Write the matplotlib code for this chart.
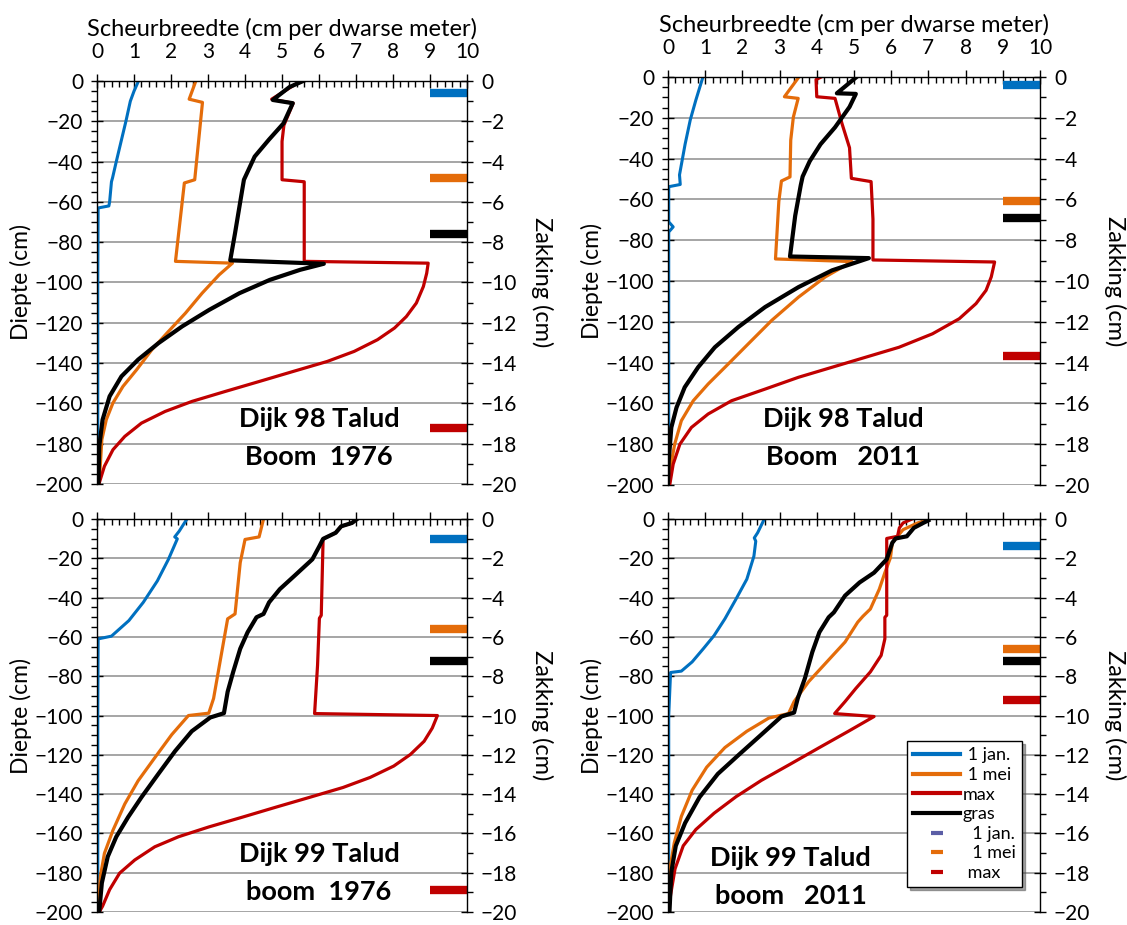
import matplotlib
matplotlib.use("Agg")
import matplotlib.pyplot as plt
from matplotlib.lines import Line2D
from matplotlib.ticker import MultipleLocator

plt.rcParams['font.family'] = ['Lato', 'DejaVu Sans']

# scheurbreedte (cm per dwarse meter) vs diepte (cm), per dijk / situatie
# Dijk 98 Talud Boom 1976
d98_1976_jan = [(1.12, 0), (1.0, -5), (0.9, -10), (0.78, -20), (0.65, -30), (0.52, -40),
                (0.42, -48), (0.39, -50), (0.34, -60), (0.32, -62), (0.03, -63), (0.02, -100), (0.02, -200)]
d98_1976_mei = [(2.67, 0), (2.49, -9), (2.85, -10.6), (2.64, -49), (2.36, -50.6), (2.12, -89.5),
                (3.66, -90.4), (3.3, -96.2), (2.84, -105.3), (2.39, -115.2), (1.93, -124.3),
                (1.48, -133.4), (1.07, -143.3), (0.7, -151.6), (0.43, -159.8), (0.25, -168.1),
                (0.13, -178), (0.06, -199.5)]
d98_1976_max = [(5.5, 0), (4.72, -9), (5.3, -11), (5.05, -22), (5.0, -30), (5.0, -49), (5.6, -50),
                (5.6, -89.5), (8.95, -90.4), (8.91, -95.4), (8.82, -102), (8.63, -110.2), (8.36, -116.9),
                (8.04, -122.6), (7.58, -128.4), (6.95, -134.2), (6.22, -139.2), (5.31, -144.1),
                (4.39, -149.1), (3.48, -154), (2.57, -159), (1.84, -164), (1.2, -169.8), (0.75, -176.4),
                (0.43, -183), (0.2, -191.2), (0.06, -199.5)]
d98_1976_gras = [(5.57, 0), (5.2, -3), (4.75, -9.4), (5.29, -11), (5.04, -21), (4.65, -29),
                 (4.26, -37.5), (3.97, -49), (3.87, -60), (3.73, -75.5), (3.6, -89), (6.13, -90.7),
                 (5.49, -93.7), (4.67, -98.7), (3.85, -105.3), (3.03, -113.6), (2.3, -121.8),
                 (1.66, -130.1), (1.11, -138.3), (0.66, -146.6), (0.34, -156.5), (0.15, -168.1),
                 (0.06, -181.3), (0.04, -199.5)]

# Dijk 98 Talud Boom 2011
d98_2011_jan = [(0.94, 0), (0.75, -11.3), (0.6, -21), (0.46, -33), (0.31, -48), (0.33, -52.7),
                (0.02, -53.8), (0.02, -71), (0.14, -73.5), (0.02, -76), (0.02, -200)]
d98_2011_mei = [(3.52, 0), (3.13, -9.7), (3.5, -10.5), (3.37, -19.7), (3.3, -31), (3.28, -49),
                (3.05, -51), (2.98, -61), (2.89, -89.2), (4.95, -90.5), (4.23, -98), (3.51, -107.9),
                (2.79, -119.3), (2.16, -130.8), (1.62, -140.7), (1.08, -150.5), (0.68, -158.7),
                (0.36, -168.5), (0.18, -180), (0.05, -193.1), (0.02, -200)]
d98_2011_max = [(4.12, 0), (3.98, -1.3), (4.0, -9.7), (4.49, -10.5), (4.68, -23), (4.88, -34.7),
                (4.93, -49.7), (5.46, -51.3), (5.51, -69.7), (5.51, -89.7), (8.78, -90.7), (8.69, -98),
                (8.55, -104.6), (8.28, -111.1), (7.83, -118.5), (7.11, -125.9), (6.21, -132.5),
                (5.31, -137.4), (4.41, -142.3), (3.51, -147.2), (2.61, -153), (1.71, -158.7),
                (1.08, -165.2), (0.63, -171.8), (0.32, -180), (0.14, -189.8), (0.05, -199.7)]
d98_2011_gras = [(5.07, 0), (4.54, -8), (5.05, -8.3), (4.88, -14.7), (4.49, -24.7), (4.1, -33),
                 (3.81, -41.3), (3.62, -48.8), (3.57, -53), (3.42, -68), (3.28, -88), (5.4, -88.8),
                 (4.41, -94.8), (3.51, -103), (2.61, -112.8), (1.89, -122.6), (1.26, -132.5),
                 (0.81, -142.3), (0.45, -152.1), (0.23, -162), (0.09, -171.8), (0.02, -188.2), (0.0, -199.7)]

# Dijk 99 Talud boom 1976
d99_1976_jan = [(2.43, 0), (2.22, -6.2), (2.1, -9.1), (2.17, -10.1), (1.93, -20.5), (1.63, -31.5),
                (1.25, -42.4), (0.86, -51.7), (0.39, -59.6), (0.03, -61), (0.02, -100), (0.02, -200)]
d99_1976_mei = [(4.5, 0), (4.38, -9.1), (4.0, -10.4), (3.87, -22.2), (3.73, -48.3), (3.53, -50.8),
                (3.34, -71), (3.15, -91.3), (3.02, -98.8), (2.47, -100), (2.02, -109.7), (1.56, -121.5),
                (1.11, -133.2), (0.75, -145), (0.43, -158.4), (0.2, -170.1), (0.09, -181.9), (0.02, -199.5)]
d99_1976_max = [(7.03, 0), (6.89, -2), (6.6, -3.7), (6.45, -7), (6.11, -10.1), (6.06, -49),
                (6.01, -50.5), (5.96, -74.4), (5.88, -99), (9.2, -100), (9.06, -106.4), (8.84, -113.1),
                (8.47, -119.8), (8.02, -125.7), (7.38, -131.5), (6.65, -136.6), (5.75, -141.6),
                (4.84, -146.6), (3.93, -151.7), (3.02, -156.7), (2.2, -161.7), (1.56, -166.8),
                (1.02, -173.5), (0.61, -180.2), (0.34, -188.6), (0.15, -197), (0.06, -200)]
d99_1976_gras = [(7.03, 0), (6.89, -2), (6.6, -3.7), (6.45, -7), (6.11, -10.1), (6.01, -13.8),
                 (5.82, -20.5), (5.33, -29), (4.94, -35.7), (4.65, -42.4), (4.5, -48.3), (4.31, -50),
                 (4.07, -57.6), (3.87, -66), (3.68, -77.8), (3.53, -87.9), (3.43, -98.8), (3.06, -101),
                 (2.56, -108), (2.11, -118.1), (1.65, -129.9), (1.2, -141.6), (0.84, -151.7),
                 (0.52, -161.7), (0.29, -171.8), (0.13, -185.2), (0.06, -199.5)]

# Dijk 99 Talud boom 2011
d99_2011_jan = [(2.59, 0), (2.41, -7), (2.32, -9.6), (2.36, -11.3), (2.31, -18.9), (2.12, -30.6),
                (1.83, -40.7), (1.53, -50.8), (1.24, -59.3), (0.95, -66), (0.65, -72.7), (0.36, -77.4),
                (0.07, -78.1), (0.02, -100), (0.02, -200)]
d99_2011_mei = [(6.95, -0.7), (6.71, -2), (6.32, -5.4), (6.17, -8.8), (6.03, -12.1), (5.98, -19.7),
                (5.83, -27.3), (5.68, -35.7), (5.44, -45.8), (5.24, -49.5), (5.1, -52.5), (4.76, -62.6),
                (4.27, -72.7), (3.78, -82.8), (3.39, -92.9), (3.24, -99), (2.71, -101.3), (2.12, -108),
                (1.53, -116.3), (1.04, -126.3), (0.65, -138), (0.36, -151.3), (0.17, -164.7),
                (0.05, -178), (0.02, -191), (0.02, -200)]
d99_2011_max = [(6.56, 0), (6.32, -2), (6.22, -4.5), (6.17, -8.8), (5.88, -9.9), (5.88, -49),
                (5.83, -50), (5.83, -61), (5.73, -69.4), (5.44, -77.8), (5.05, -86.2), (4.76, -92.9),
                (4.48, -99), (5.54, -100.5), (4.85, -108), (4.07, -116.3), (3.29, -124.7), (2.51, -133),
                (1.83, -141.3), (1.24, -149.7), (0.75, -158), (0.41, -166.3), (0.19, -178), (0.07, -191.3),
                (0.02, -200)]
d99_2011_gras = [(7.0, -0.7), (6.86, -2), (6.61, -4.5), (6.42, -8.8), (6.12, -9.9), (6.03, -12.1),
                 (5.88, -20.5), (5.54, -27.3), (5.15, -32.3), (4.76, -39), (4.46, -47.5), (4.32, -50),
                 (4.07, -57.6), (3.88, -67.7), (3.68, -81.1), (3.49, -91.2), (3.39, -98.5), (3.05, -100.5),
                 (2.51, -109.7), (1.92, -119.7), (1.34, -129.7), (0.85, -141.5), (0.46, -154.7),
                 (0.21, -166.3), (0.09, -179.7), (0.04, -200)]

# zakking (cm): 1 jan., 1 mei, gras, max
zakking_98_1976 = [-0.6, -4.8, -7.6, -17.2]
zakking_98_2011 = [-0.4, -6.1, -6.9, -13.7]
zakking_99_1976 = [-1.0, -5.6, -7.2, -18.9]
zakking_99_2011 = [-1.35, -6.6, -7.2, -9.2]

titles = ["Dijk 98 Talud\nBoom  1976", "Dijk 98 Talud\nBoom   2011",
          "Dijk 99 Talud\nboom  1976", "Dijk 99 Talud\nboom   2011"]

BLUE = '#0070C0'
ORANGE = '#E46C0A'
RED = '#C00000'
BLACK = '#000000'
PURPLE = '#5B5EA6'

panels = [
    ([0.0861, 0.4768, 0.3283, 0.4356], d98_1976_jan, d98_1976_mei, d98_1976_max, d98_1976_gras,
     zakking_98_1976, titles[0], (6.0, -177)),
    ([0.5927, 0.4757, 0.3301, 0.4411], d98_2011_jan, d98_2011_mei, d98_2011_max, d98_2011_gras,
     zakking_98_2011, titles[1], (4.7, -177)),
    ([0.0861, 0.0140, 0.3283, 0.4249], d99_1976_jan, d99_1976_mei, d99_1976_max, d99_1976_gras,
     zakking_99_1976, titles[2], (6.0, -180)),
    ([0.5927, 0.0140, 0.3301, 0.4249], d99_2011_jan, d99_2011_mei, d99_2011_max, d99_2011_gras,
     zakking_99_2011, titles[3], (3.3, -182)),
]


def xy(points):
    return [p[0] for p in points], [p[1] for p in points]


fig = plt.figure(figsize=(11.27, 9.25), dpi=100)

for i, (pos, jan, mei, mx, gras, zak, title, tpos) in enumerate(panels):
    ax = fig.add_axes(pos)
    ax.set_xlim(0, 10)
    ax.set_ylim(-200, 0)
    ax.yaxis.grid(True, color='#969696', lw=1.2)
    ax.set_axisbelow(True)
    for s in ['bottom', 'right']:
        ax.spines[s].set_visible(False)
    ax.spines['left'].set_linewidth(1.0)
    ax.spines['top'].set_linewidth(1.0)

    ax.plot(*xy(jan), color=BLUE, lw=2.2, solid_joinstyle='round')
    ax.plot(*xy(mei), color=ORANGE, lw=2.3, solid_joinstyle='round')
    ax.plot(*xy(mx), color=RED, lw=2.3, solid_joinstyle='round')
    ax.plot(*xy(gras), color=BLACK, lw=3.0, solid_joinstyle='round')

    ax.xaxis.tick_top()
    ax.xaxis.set_major_locator(MultipleLocator(1))
    ax.xaxis.set_minor_locator(MultipleLocator(0.2))
    ax.yaxis.set_major_locator(MultipleLocator(20))
    ax.yaxis.set_minor_locator(MultipleLocator(5))
    ax.tick_params(axis='x', which='major', direction='inout', length=10, width=1, labelsize=15, pad=9)
    ax.tick_params(axis='x', which='minor', direction='in', length=4, width=1)
    ax.tick_params(axis='y', which='major', direction='inout', length=8, width=1, labelsize=15, pad=6)
    ax.tick_params(axis='y', which='minor', direction='out', length=4, width=1)
    ax.set_ylabel('Diepte (cm)', fontsize=16.5, labelpad=2)
    if i < 2:
        ax.xaxis.set_label_position('top')
        ax.set_xlabel('Scheurbreedte (cm per dwarse meter)', fontsize=17, labelpad=4)
    else:
        ax.tick_params(axis='x', labeltop=False)

    ax.text(tpos[0], tpos[1], title, ha='center', va='center', fontsize=19.5,
            fontweight='bold', linespacing=1.7)

    tw = ax.twinx()
    tw.set_ylim(-20, 0)
    tw.spines['right'].set_linewidth(1.0)
    for s in ['bottom', 'top', 'left']:
        tw.spines[s].set_visible(False)
    tw.yaxis.set_major_locator(MultipleLocator(2))
    tw.yaxis.set_minor_locator(MultipleLocator(1))
    tw.tick_params(axis='y', which='major', direction='inout', length=8, width=1, labelsize=15, pad=6)
    tw.tick_params(axis='y', which='minor', direction='out', length=4, width=1)
    tw.set_ylabel('Zakking (cm)', fontsize=17, rotation=270, labelpad=26)

    for v, c in zip(zak, [BLUE, ORANGE, BLACK, RED]):
        tw.plot([9, 10], [v, v], color=c, lw=6, solid_capstyle='butt')

    if i == 3:
        handles = [
            Line2D([], [], color=BLUE, lw=3),
            Line2D([], [], color=ORANGE, lw=3),
            Line2D([], [], color=RED, lw=3),
            Line2D([], [], color=BLACK, lw=3),
            Line2D([], [], color=PURPLE, marker='_', ls='none', ms=8, mew=3),
            Line2D([], [], color=ORANGE, marker='_', ls='none', ms=8, mew=3),
            Line2D([], [], color=RED, marker='_', ls='none', ms=8, mew=3),
        ]
        labels = [' 1 jan.', ' 1 mei', 'max', 'gras', '  1 jan.', '  1 mei', ' max']
        leg = tw.legend(handles, labels, loc='upper left', bbox_to_anchor=(0.642, 0.435),
                        fontsize=13, frameon=True, fancybox=False, shadow=True,
                        handlelength=2.6, handletextpad=0.15, labelspacing=0.2,
                        borderpad=0.35, borderaxespad=0)
        leg.get_frame().set_edgecolor('black')
        leg.get_frame().set_linewidth(1.0)

fig.savefig('out.png', dpi=100)
